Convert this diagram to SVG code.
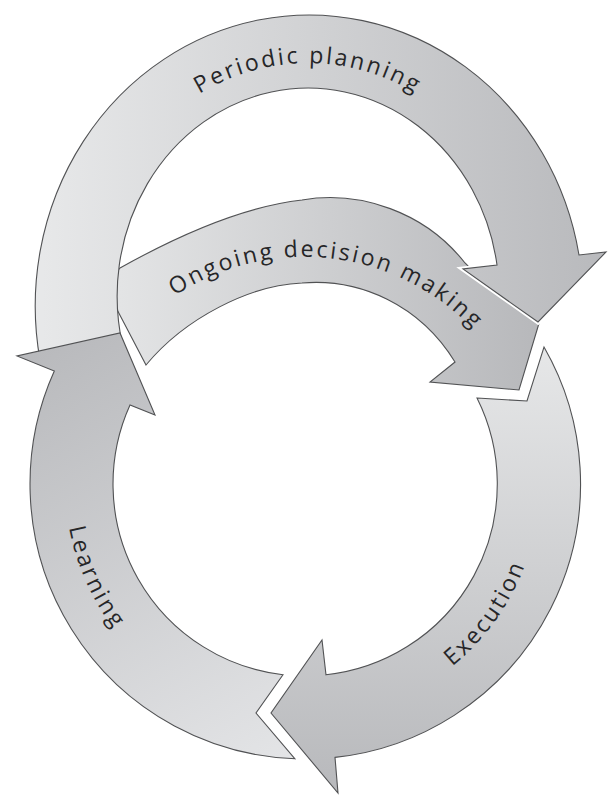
<svg xmlns="http://www.w3.org/2000/svg" width="608" height="795" viewBox="0 0 608 795">
  <defs>
    <linearGradient id="gPeriodic" gradientUnits="userSpaceOnUse" x1="30" y1="0" x2="600" y2="0">
      <stop offset="0" stop-color="#e8e9ea"/>
      <stop offset="1" stop-color="#b9babd"/>
    </linearGradient>
    <linearGradient id="gOngoing" gradientUnits="userSpaceOnUse" x1="110" y1="0" x2="550" y2="0">
      <stop offset="0" stop-color="#e4e5e6"/>
      <stop offset="1" stop-color="#b6b7ba"/>
    </linearGradient>
    <linearGradient id="gExecution" gradientUnits="userSpaceOnUse" x1="0" y1="350" x2="0" y2="790">
      <stop offset="0" stop-color="#e6e7e8"/>
      <stop offset="1" stop-color="#b8b9bc"/>
    </linearGradient>
    <linearGradient id="gLearning" gradientUnits="userSpaceOnUse" x1="60" y1="340" x2="300" y2="760">
      <stop offset="0" stop-color="#b9babd"/>
      <stop offset="1" stop-color="#e4e5e7"/>
    </linearGradient>
    <!-- baselines for the curved labels -->
    <path id="pPeriodic" d="M 88 300 A 220 237 0 0 1 528 300"/>
    <path id="pOngoing" d="M 112.3 356.7 A 234 234 0 0 1 495.7 356.7"/>
    <path id="pLearning" d="M 73.2 421.9 A 241 241 0 0 0 185 692"/>
    <path id="pExecution" d="M 367 710 A 234 234 0 0 0 531 423"/>
  </defs>
  <style>
    .arrow { stroke: #515254; stroke-width: 1.1; stroke-linejoin: miter; }
    .halo { fill: none; stroke: #ffffff; stroke-width: 5; stroke-linejoin: miter; }
    .label { font-family: "Open Sans", "Liberation Sans", sans-serif; font-size: 23px; fill: #262628; letter-spacing: 2.5px; }
  </style>

  <g id="connectors">
    <!-- ongoing decision making: inner arc, sits beneath the planning loop -->
    <g id="ongoing-decision-making">
      <path class="arrow" fill="url(#gOngoing)" d="M 110 280 L 120 268 C 170 240 240 207 302 200 C 360 190 425 212 465 263 L 478 276 L 546 300 L 519 390 L 430 382 L 455 362 C 420 305 360 278 302 283 C 250 285 185 318 146 365 L 123 321 L 112 300 Z"/>
      <text class="label"><textPath href="#pOngoing" startOffset="56%" text-anchor="middle">Ongoing decision making</textPath></text>
    </g>

    <!-- periodic planning: outer top loop -->
    <g id="periodic-planning">
      <polygon class="halo" points="463,269 606,252 538,322"/>
      <path class="arrow" fill="url(#gPeriodic)" d="M 40 360 A 274 291 0 1 1 579 255 L 606 252 L 538 322 L 463 269 L 497 265 A 191 208 0 1 0 122.5 345 Z"/>
      <text class="label"><textPath href="#pPeriodic" startOffset="50%" text-anchor="middle">Periodic planning</textPath></text>
    </g>

    <!-- execution: right half of the lower loop -->
    <g id="execution">
      <path class="arrow" fill="url(#gExecution)" d="M 477 398 L 527 401 L 544 347 A 275 275 0 0 1 335 757.4 L 338 793 L 271 713 L 322 640 L 326 674.8 A 192 192 0 0 0 477 398 Z"/>
      <text class="label"><textPath href="#pExecution" startOffset="43.6%" text-anchor="middle">Execution</textPath></text>
    </g>

    <!-- learning: left half of the lower loop -->
    <g id="learning">
      <path class="arrow" fill="url(#gLearning)" d="M 283 674.7 L 256 713 L 295 758.8 A 275 275 0 0 1 54.3 371 L 17 356 L 120 333 L 155 415 L 130 405 A 192 192 0 0 0 283 674.7 Z"/>
      <text class="label"><textPath href="#pLearning" startOffset="52%" text-anchor="middle">Learning</textPath></text>
    </g>
  </g>
</svg>
